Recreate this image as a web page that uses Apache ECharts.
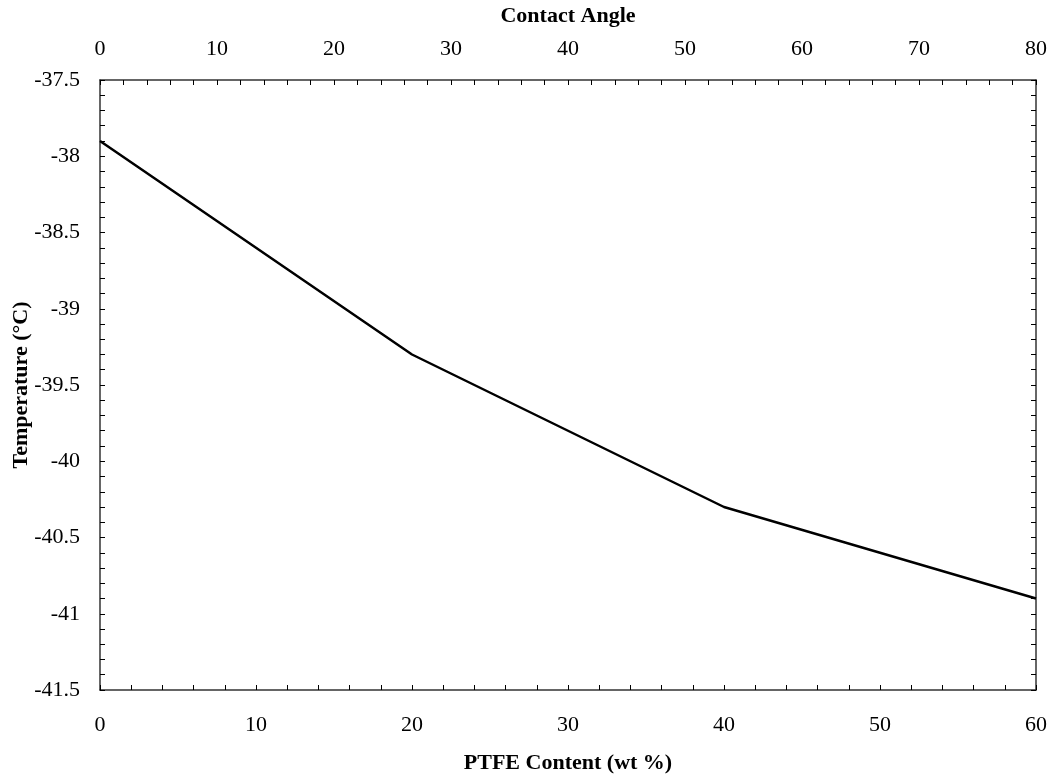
<!DOCTYPE html>
<html>
<head>
<meta charset="utf-8">
<script src="https://cdn.jsdelivr.net/npm/echarts@6/dist/echarts.min.js"></script>
<style>
  html, body { margin: 0; padding: 0; background: #fff; }
  #chart { width: 1052px; height: 778px; }
</style>
</head>
<body>
<div id="chart"></div>
<script>
// PTFE content (wt %) and freezing temperature (°C)
var ptfeContent = [0, 20, 40, 60];
var temperature = [-37.9, -39.3, -40.3, -40.9];

var font = 'Liberation Serif, Times New Roman, serif';

var chart = echarts.init(document.getElementById('chart'));

// ticks every minor step, labels only on major steps
function onMajor(v, major) {
  var r = v / major;
  return Math.abs(r - Math.round(r)) < 1e-6;
}

function xAxisStyle(pos, max, name, nameGap, margin) {
  return {
    type: 'value',
    position: pos,
    min: 0,
    max: max,
    interval: 2,
    name: name,
    nameLocation: 'middle',
    nameGap: nameGap,
    nameTextStyle: { fontFamily: font, fontSize: 22, fontWeight: 'bold', color: '#000' },
    axisLine: { show: true, onZero: false, lineStyle: { color: '#333', width: 1.5 } },
    axisTick: { show: true, inside: true, length: 5, lineStyle: { color: '#000' } },
    axisLabel: {
      fontFamily: font, fontSize: 22, color: '#000', margin: margin,
      formatter: function (v) { return onMajor(v, 10) ? String(v) : ''; }
    },
    splitLine: { show: false }
  };
}

function yAxisStyle(pos) {
  return {
    type: 'value',
    position: pos,
    min: -41.5,
    max: -37.5,
    interval: 0.1,
    axisLine: { show: true, onZero: false, lineStyle: { color: '#333', width: 1.5 } },
    axisTick: { show: true, inside: true, length: 5, lineStyle: { color: '#000' } },
    axisLabel: {
      show: pos === 'left', fontFamily: font, fontSize: 22, color: '#000', margin: 20,
      formatter: function (v) { return onMajor(v, 0.5) ? String(Math.round(v * 10) / 10) : ''; }
    },
    splitLine: { show: false }
  };
}

var leftAxis = yAxisStyle('left');
leftAxis.name = 'Temperature (°C)';
leftAxis.nameLocation = 'middle';
leftAxis.nameGap = 68;
leftAxis.nameMoveOverlap = false;
leftAxis.nameTextStyle = { fontFamily: font, fontSize: 22, fontWeight: 'bold', color: '#000' };

chart.setOption({
  animation: false,
  grid: { left: 100, right: 16, top: 80, bottom: 88, outerBoundsMode: 'none' },
  xAxis: [
    xAxisStyle('bottom', 60, 'PTFE Content (wt %)', 62, 24),
    xAxisStyle('top', 80, 'Contact Angle', 53, 20)
  ],
  yAxis: [leftAxis, yAxisStyle('right')],
  series: [
    {
      type: 'line',
      xAxisIndex: 0,
      yAxisIndex: 0,
      data: ptfeContent.map(function (x, i) { return [x, temperature[i]]; }),
      symbol: 'none',
      lineStyle: { color: '#000', width: 2.5 }
    }
  ]
});
</script>
</body>
</html>
